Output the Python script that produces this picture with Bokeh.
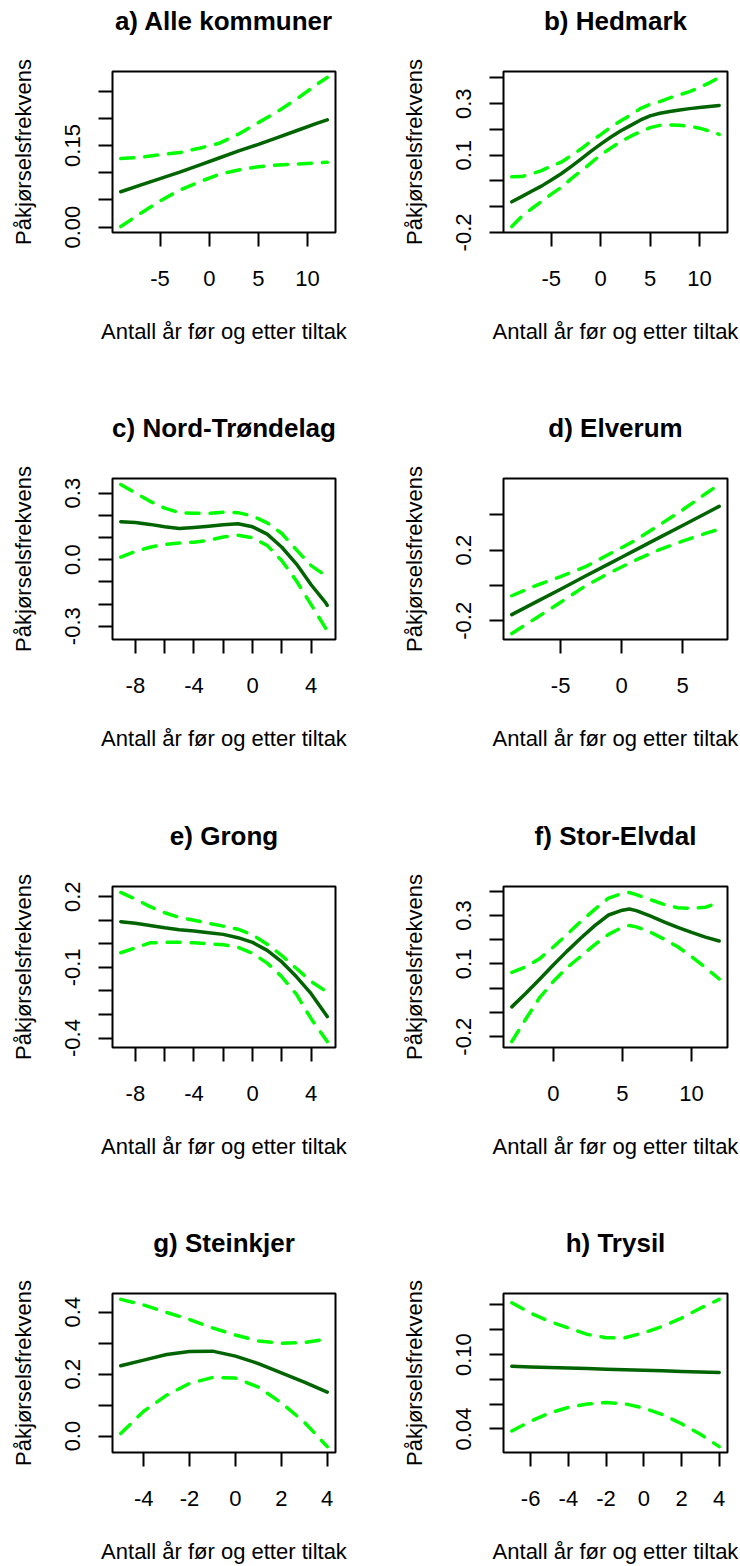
from bokeh.plotting import figure
from bokeh.layouts import gridplot
from bokeh.models import FixedTicker, Range1d, LinearAxis
from bokeh.embed import file_html
from bokeh.resources import INLINE

FONT = "Liberation Sans"
XLABEL = "Antall år før og etter tiltak"
YLABEL = "Påkjørselsfrekvens"
FIT_COLOR = "#006400"
CI_COLOR = "#00FF00"

# ---------------- a) Alle kommuner ----------------
a_title = "a) Alle kommuner"
a_x = [-9, -7, -5, -3, -1, 1, 3, 5, 7, 9, 11, 12]
a_fit = [0.065, 0.077, 0.089, 0.101, 0.114, 0.127, 0.140, 0.152, 0.165, 0.178, 0.191, 0.197]
a_hi = [0.126, 0.128, 0.133, 0.137, 0.145, 0.154, 0.171, 0.192, 0.213, 0.237, 0.263, 0.275]
a_lo = [0.001, 0.025, 0.048, 0.068, 0.083, 0.097, 0.105, 0.111, 0.114, 0.116, 0.118, 0.119]
a_xticks = [-5, 0, 5, 10]
a_xlabels = ["-5", "0", "5", "10"]
a_yticks = [0.0, 0.05, 0.10, 0.15, 0.20, 0.25]
a_ylabels = ["0.00", "", "", "0.15", "", ""]

# ---------------- b) Hedmark ----------------
b_title = "b) Hedmark"
b_x = [-9, -8, -7, -6, -5, -4, -3, -2, -1, 0, 1, 2, 3, 4, 5, 6, 7, 8, 9, 10, 11, 12]
b_fit = [-0.081, -0.061, -0.040, -0.020, 0.004, 0.028, 0.056, 0.085, 0.115, 0.143, 0.170, 0.194,
         0.215, 0.236, 0.253, 0.263, 0.270, 0.276, 0.281, 0.285, 0.289, 0.293]
b_hi = [0.016, 0.017, 0.028, 0.040, 0.058, 0.073, 0.098, 0.124, 0.154, 0.180, 0.208, 0.233,
        0.255, 0.281, 0.298, 0.308, 0.323, 0.335, 0.347, 0.363, 0.381, 0.402]
b_lo = [-0.177, -0.138, -0.108, -0.080, -0.051, -0.025, 0.008, 0.038, 0.069, 0.102, 0.127, 0.152,
        0.173, 0.191, 0.207, 0.216, 0.217, 0.216, 0.212, 0.205, 0.194, 0.181]
b_xticks = [-5, 0, 5, 10]
b_xlabels = ["-5", "0", "5", "10"]
b_yticks = [-0.2, -0.1, 0.0, 0.1, 0.2, 0.3, 0.4]
b_ylabels = ["-0.2", "", "", "0.1", "", "0.3", ""]

# ---------------- c) Nord-Trøndelag ----------------
c_title = "c) Nord-Trøndelag"
c_x = [-9, -8, -7, -6, -5, -4, -3, -2, -1, 0, 1, 2, 3, 4, 5, 5.1]
c_fit = [0.171, 0.168, 0.159, 0.148, 0.140, 0.145, 0.151, 0.157, 0.162, 0.148, 0.115, 0.056,
         -0.020, -0.113, -0.195, -0.206]
c_hi = [0.339, 0.301, 0.263, 0.232, 0.212, 0.209, 0.209, 0.214, 0.212, 0.197, 0.166, 0.118,
        0.044, -0.027, -0.072, -0.079]
c_lo = [0.011, 0.037, 0.056, 0.069, 0.075, 0.079, 0.087, 0.102, 0.110, 0.099, 0.064, -0.005,
        -0.096, -0.203, -0.310, -0.333]
c_xticks = [-8, -6, -4, -2, 0, 2, 4]
c_xlabels = ["-8", "", "-4", "", "0", "", "4"]
c_yticks = [-0.3, -0.2, -0.1, 0.0, 0.1, 0.2, 0.3]
c_ylabels = ["-0.3", "", "", "0.0", "", "", "0.3"]

# ---------------- d) Elverum ----------------
d_title = "d) Elverum"
d_x = [-9, -7, -5, -3, -1, 0, 1, 3, 5, 7, 8]
d_fit = [-0.165, -0.093, -0.021, 0.052, 0.124, 0.160, 0.196, 0.268, 0.340, 0.412, 0.448]
d_hi = [-0.058, 0.000, 0.050, 0.105, 0.178, 0.214, 0.251, 0.338, 0.428, 0.525, 0.572]
d_lo = [-0.272, -0.184, -0.095, -0.004, 0.071, 0.105, 0.139, 0.200, 0.251, 0.298, 0.318]
d_xticks = [-5, 0, 5]
d_xlabels = ["-5", "0", "5"]
d_yticks = [-0.2, 0.0, 0.2, 0.4]
d_ylabels = ["-0.2", "", "0.2", ""]

# ---------------- e) Grong ----------------
e_title = "e) Grong"
e_x = [-9, -8, -7, -6, -5, -4, -3, -2, -1, 0, 1, 2, 3, 4, 5.1]
e_fit = [0.094, 0.087, 0.078, 0.068, 0.060, 0.054, 0.047, 0.040, 0.026, 0.006, -0.028, -0.077,
         -0.140, -0.212, -0.309]
e_hi = [0.218, 0.190, 0.158, 0.132, 0.112, 0.100, 0.087, 0.075, 0.062, 0.038, -0.002, -0.050,
        -0.105, -0.160, -0.205]
e_lo = [-0.038, -0.017, 0.004, 0.006, 0.007, 0.004, 0.000, -0.004, -0.015, -0.040, -0.082, -0.140,
        -0.215, -0.318, -0.415]
e_xticks = [-8, -6, -4, -2, 0, 2, 4]
e_xlabels = ["-8", "", "-4", "", "0", "", "4"]
e_yticks = [-0.4, -0.3, -0.2, -0.1, 0.0, 0.1, 0.2]
e_ylabels = ["-0.4", "", "", "-0.1", "", "", "0.2"]

# ---------------- f) Stor-Elvdal ----------------
f_title = "f) Stor-Elvdal"
f_x = [-3, -2, -1, 0, 1, 2, 3, 4, 5, 5.5, 6, 7, 8, 9, 10, 11, 12]
f_fit = [-0.077, -0.022, 0.036, 0.096, 0.153, 0.207, 0.258, 0.302, 0.322, 0.327, 0.320, 0.298,
         0.274, 0.251, 0.230, 0.211, 0.195]
f_hi = [0.065, 0.088, 0.121, 0.170, 0.222, 0.276, 0.325, 0.372, 0.391, 0.395, 0.386, 0.366,
        0.346, 0.332, 0.329, 0.334, 0.354]
f_lo = [-0.220, -0.128, -0.040, 0.028, 0.085, 0.132, 0.180, 0.222, 0.252, 0.259, 0.253, 0.232,
        0.203, 0.171, 0.130, 0.085, 0.038]
f_xticks = [0, 5, 10]
f_xlabels = ["0", "5", "10"]
f_yticks = [-0.2, -0.1, 0.0, 0.1, 0.2, 0.3, 0.4]
f_ylabels = ["-0.2", "", "", "0.1", "", "0.3", ""]

# ---------------- g) Steinkjer ----------------
g_title = "g) Steinkjer"
g_x = [-5, -4, -3, -2, -1, 0, 1, 2, 3, 4]
g_fit = [0.227, 0.245, 0.263, 0.273, 0.274, 0.258, 0.234, 0.204, 0.174, 0.142]
g_hi = [0.441, 0.423, 0.399, 0.376, 0.349, 0.326, 0.307, 0.299, 0.302, 0.313]
g_lo = [0.008, 0.080, 0.132, 0.170, 0.189, 0.187, 0.158, 0.107, 0.045, -0.034]
g_xticks = [-4, -2, 0, 2, 4]
g_xlabels = ["-4", "-2", "0", "2", "4"]
g_yticks = [0.0, 0.1, 0.2, 0.3, 0.4]
g_ylabels = ["0.0", "", "0.2", "", "0.4"]

# ---------------- h) Trysil ----------------
h_title = "h) Trysil"
h_x = [-7, -6, -5, -4, -3, -2, -1, 0, 1, 2, 3, 4]
h_fit = [0.0905, 0.0900, 0.0896, 0.0891, 0.0887, 0.0882, 0.0878, 0.0873, 0.0869, 0.0864, 0.0860, 0.0855]
h_hi = [0.1418, 0.1334, 0.1268, 0.1215, 0.1163, 0.1136, 0.1136, 0.1176, 0.1228, 0.1294, 0.1374, 0.1445]
h_lo = [0.0384, 0.0463, 0.0529, 0.0574, 0.0601, 0.0614, 0.0603, 0.0569, 0.0516, 0.0442, 0.0358, 0.0258]
h_xticks = [-6, -4, -2, 0, 2, 4]
h_xlabels = ["-6", "-4", "-2", "0", "2", "4"]
h_yticks = [0.04, 0.06, 0.08, 0.10, 0.12, 0.14]
h_ylabels = ["0.04", "", "", "0.10", "", ""]

panels = [
    (a_title, a_x, a_fit, a_lo, a_hi, a_xticks, a_xlabels, a_yticks, a_ylabels),
    (b_title, b_x, b_fit, b_lo, b_hi, b_xticks, b_xlabels, b_yticks, b_ylabels),
    (c_title, c_x, c_fit, c_lo, c_hi, c_xticks, c_xlabels, c_yticks, c_ylabels),
    (d_title, d_x, d_fit, d_lo, d_hi, d_xticks, d_xlabels, d_yticks, d_ylabels),
    (e_title, e_x, e_fit, e_lo, e_hi, e_xticks, e_xlabels, e_yticks, e_ylabels),
    (f_title, f_x, f_fit, f_lo, f_hi, f_xticks, f_xlabels, f_yticks, f_ylabels),
    (g_title, g_x, g_fit, g_lo, g_hi, g_xticks, g_xlabels, g_yticks, g_ylabels),
    (h_title, h_x, h_fit, h_lo, h_hi, h_xticks, h_xlabels, h_yticks, h_ylabels),
]

ROW_HEIGHTS = [407, 408, 407, 344]
FRAME_TOP = 71
FRAME_H = 161


def padded(lo, hi, frac=0.04):
    span = hi - lo
    return lo - frac * span, hi + frac * span


def make_panel(idx, title, x, fit, lo, hi, xticks, xlabels, yticks, ylabels):
    col = idx % 2
    row = idx // 2
    h = ROW_HEIGHTS[row]
    x0, x1 = padded(min(x), max(x))
    allv = fit + lo + hi
    y0, y1 = padded(min(allv), max(allv))
    p = figure(width=370, height=h, output_backend="svg", toolbar_location=None,
               x_range=Range1d(x0, x1), y_range=Range1d(y0, y1),
               min_border_left=112 if col == 0 else 133,
               min_border_right=35 if col == 0 else 13,
               min_border_top=FRAME_TOP,
               min_border_bottom=h - FRAME_TOP - FRAME_H)
    p.grid.visible = False
    p.outline_line_color = "black"
    p.outline_line_width = 2
    p.outline_line_alpha = 1.0
    p.background_fill_color = "white"
    p.border_fill_color = "white"

    xax = p.below[0]
    yax = p.left[0]

    for ax, ticks, labels in ((xax, xticks, xlabels), (yax, yticks, ylabels)):
        ax.ticker = FixedTicker(ticks=ticks, minor_ticks=[])
        ax.major_label_overrides = dict(zip(ticks, labels))
        ax.major_tick_out = 14
        ax.major_tick_in = 0
        ax.minor_tick_out = 0
        ax.minor_tick_in = 0
        ax.major_tick_line_width = 2
        ax.major_tick_line_color = "black"
        ax.axis_line_color = None
        ax.major_label_text_font = FONT
        ax.major_label_text_font_size = "22px"
        ax.major_label_text_color = "black"
        ax.axis_label_text_font = FONT
        ax.axis_label_text_font_size = "22px"
        ax.axis_label_text_font_style = "normal"
        ax.axis_label_text_color = "black"

    xax.axis_label = XLABEL
    xax.major_label_standoff = 24
    xax.axis_label_standoff = 30
    yax.axis_label = YLABEL
    yax.major_label_orientation = "vertical"
    yax.major_label_standoff = 18
    yax.axis_label_standoff = 27

    # panel title, drawn as the label of a tick-less axis above the frame
    tax = LinearAxis(ticker=FixedTicker(ticks=[], minor_ticks=[]), axis_label=title,
                     axis_line_color=None, major_tick_out=0, major_tick_in=0,
                     minor_tick_out=0, minor_tick_in=0, major_label_standoff=0,
                     major_label_text_font_size="0px",
                     axis_label_standoff=36, axis_label_text_font=FONT,
                     axis_label_text_font_size="26px", axis_label_text_font_style="bold",
                     axis_label_text_color="black")
    p.add_layout(tax, "above")

    p.line(x, hi, color=CI_COLOR, line_width=3.5, line_dash="13 11", line_cap="round")
    p.line(x, lo, color=CI_COLOR, line_width=3.5, line_dash="13 11", line_cap="round")
    p.line(x, fit, color=FIT_COLOR, line_width=3.5, line_cap="round", line_join="round")
    return p


figs = [make_panel(i, *pan) for i, pan in enumerate(panels)]
grid = gridplot([[figs[0], figs[1]], [figs[2], figs[3]], [figs[4], figs[5]], [figs[6], figs[7]]],
                toolbar_location=None)

open("out.html", "w").write(file_html(grid, INLINE))
